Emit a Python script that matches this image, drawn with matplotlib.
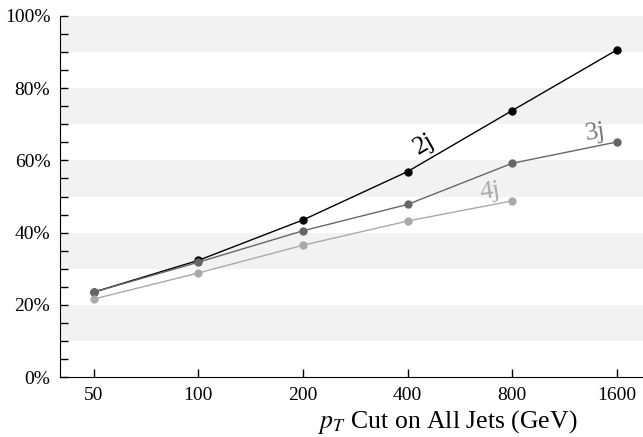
import matplotlib
matplotlib.use("Agg")
import matplotlib.pyplot as plt
from matplotlib.ticker import FixedLocator, MultipleLocator, NullLocator

plt.rcParams['font.family'] = ['Liberation Serif', 'DejaVu Serif']
plt.rcParams['mathtext.fontset'] = 'stix'

pt_cuts = [50, 100, 200, 400, 800, 1600]
eff_2j = [23.5, 32.3, 43.5, 56.9, 73.8, 90.6]
eff_3j = [23.5, 31.8, 40.5, 47.8, 59.2, 65.1]
eff_4j = [21.6, 28.8, 36.5, 43.2, 48.8]
y_ticks = [0, 20, 40, 60, 80, 100]
y_labels = ['0%', '20%', '40%', '60%', '80%', '100%']

fig = plt.figure(figsize=(6.43, 4.37), dpi=100)
ax = fig.add_axes([60 / 643, 1 - 377 / 437, 1 - 60 / 643, (377 - 16) / 437])

# gray stripes
for lo in range(10, 100, 20):
    ax.axhspan(lo, lo + 10, color='#f2f2f2', lw=0, zorder=0)

ax.plot(pt_cuts, eff_2j, color='black', lw=1.0, marker='o', ms=5, zorder=3)
ax.plot(pt_cuts, eff_3j, color='#666666', lw=1.0, marker='o', ms=5, zorder=3)
ax.plot(pt_cuts[:len(eff_4j)], eff_4j, color='#aaaaaa', lw=1.0, marker='o', ms=5, zorder=3)

ax.text(447, 64.5, '2j', color='black', fontsize=19, rotation=30, ha='center', va='center')
ax.text(1390, 67.8, '3j', color='#777777', fontsize=19, rotation=8, ha='center', va='center')
ax.text(692, 51.2, '4j', color='#aaaaaa', fontsize=19, rotation=8, ha='center', va='center')

ax.set_xscale('log', base=2)
ax.set_xlim(40, 1903)
ax.xaxis.set_major_locator(FixedLocator(pt_cuts))
ax.xaxis.set_minor_locator(NullLocator())
ax.set_xticklabels([str(v) for v in pt_cuts])
ax.set_ylim(0, 100)
ax.set_yticks(y_ticks)
ax.set_yticklabels(y_labels)
ax.yaxis.set_minor_locator(MultipleLocator(5))

for s in ['top', 'right']:
    ax.spines[s].set_visible(False)
ax.tick_params(axis='both', which='both', direction='in', labelsize=14, width=1)
ax.tick_params(axis='both', which='major', length=6, pad=7)
ax.tick_params(axis='y', which='minor', length=6)

ax.set_xlabel('$p_T$ Cut on All Jets (GeV)', fontsize=18.5)
ax.xaxis.set_label_coords(0.665, -0.085)

fig.savefig('out.png', dpi=100)
